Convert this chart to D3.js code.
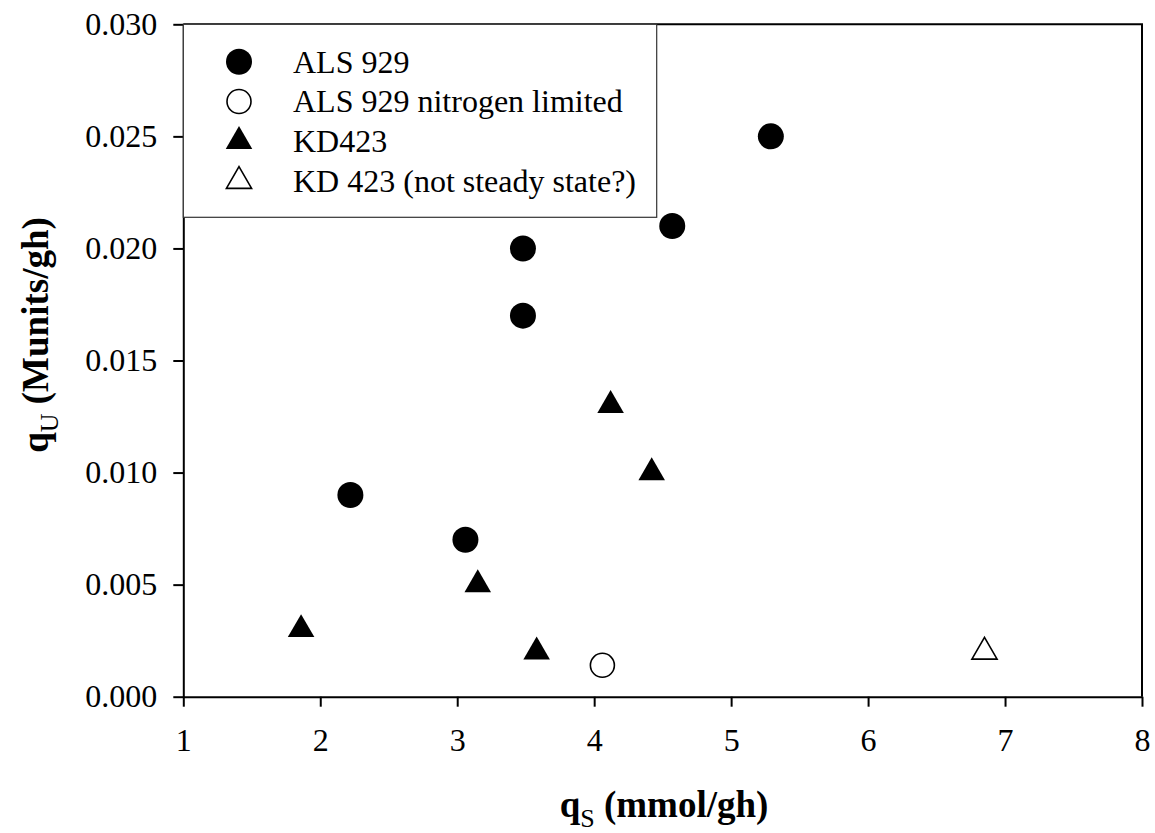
<!DOCTYPE html>
<html>
<head>
<meta charset="utf-8">
<script src="https://cdn.jsdelivr.net/npm/d3@7"></script>
<style>
	body { margin: 0; background: #fff; }
	svg { display: block; font-family: "Liberation Serif", "Times New Roman", serif; }
</style>
</head>
<body>
<svg id="chart" width="1155" height="833"></svg>
<script>
"use strict";

// values
var als929X = [2.22, 3.06, 3.48, 3.48, 4.57, 5.29];
var als929Y = [0.009, 0.007, 0.017, 0.020, 0.021, 0.025];
var alsNitroX = [4.06];
var alsNitroY = [0.0014];
var kd423X = [1.86, 3.15, 3.58, 4.12, 4.42];
var kd423Y = [0.003, 0.005, 0.002, 0.013, 0.010];
var kdUnsteadyX = [6.85];
var kdUnsteadyY = [0.002];

var xTicks = [1, 2, 3, 4, 5, 6, 7, 8];
var yTicks = [0, 0.005, 0.010, 0.015, 0.020, 0.025, 0.030];
var legendLabels = ["ALS 929", "ALS 929 nitrogen limited", "KD423", "KD 423 (not steady state?)"];

var FONT = '"Liberation Serif", "Times New Roman", serif';
var svg = d3.select('#chart');
var x = d3.scaleLinear().domain([1, 8]).range([183.3, 1142]);
var y = d3.scaleLinear().domain([0, 0.03]).range([696.7, 24.3]);

function zip(xs, ys) { return xs.map(function(v, i){ return [v, ys[i]]; }); }

var series = [
	{label: legendLabels[0], pts: zip(als929X, als929Y), shape: 'circle', fill: true},
	{label: legendLabels[1], pts: zip(alsNitroX, alsNitroY), shape: 'circle', fill: false},
	{label: legendLabels[2], pts: zip(kd423X, kd423Y), shape: 'triangle', fill: true},
	{label: legendLabels[3], pts: zip(kdUnsteadyX, kdUnsteadyY), shape: 'triangle', fill: false}
];

function symbolPath(s) {
	if (s.shape === 'circle') {
		return d3.symbol().type(d3.symbolCircle).size(s.fill ? Math.PI*13*13 : Math.PI*12*12)();
	}
	return d3.symbol().type(d3.symbolTriangle).size(s.fill ? 305 : 275)();
}

// axes
var xAxis = svg.append('g')
	.attr('transform', 'translate(0,' + y(0) + ')')
	.call(d3.axisBottom(x).tickValues(xTicks).tickSize(10).tickSizeOuter(0).tickPadding(22).tickFormat(d3.format('d')));
var yAxis = svg.append('g')
	.attr('transform', 'translate(' + x(1) + ',0)')
	.call(d3.axisLeft(y).tickValues(yTicks).tickSize(10).tickSizeOuter(0).tickPadding(16).tickFormat(d3.format('.3f')));

[xAxis, yAxis].forEach(function(a){
	a.attr('font-family', FONT).attr('font-size', 32);
	a.select('.domain').attr('stroke', '#000').attr('stroke-width', 2);
	a.selectAll('.tick line').attr('stroke', '#000').attr('stroke-width', 2);
	a.selectAll('.tick text').attr('fill', '#000');
});

// top and right frame
svg.append('path')
	.attr('d', 'M' + x(1) + ',' + y(0.03) + 'H' + x(8) + 'V' + y(0))
	.attr('fill', 'none').attr('stroke', '#000').attr('stroke-width', 2);

// legend
var legend = svg.append('g');
legend.append('rect')
	.attr('x', x(1)).attr('y', y(0.03))
	.attr('width', 656.7 - x(1)).attr('height', 217.3 - y(0.03))
	.attr('fill', '#fff').attr('stroke', '#333').attr('stroke-width', 1.2);

series.forEach(function(s, i){
	var ry = 61.7 + i*39.8;
	legend.append('path')
		.attr('d', symbolPath(s))
		.attr('transform', 'translate(239,' + ry + ')')
		.attr('fill', s.fill ? '#000' : '#fff')
		.attr('stroke', '#000').attr('stroke-width', s.fill ? 0 : 1.6);
	legend.append('text')
		.attr('x', 293).attr('y', ry + 10.8)
		.attr('font-size', 32)
		.text(s.label);
});

// points
series.forEach(function(s){
	svg.append('g').selectAll('path')
		.data(s.pts)
		.enter().append('path')
		.attr('d', symbolPath(s))
		.attr('transform', function(d){ return 'translate(' + x(d[0]) + ',' + y(d[1]) + ')'; })
		.attr('fill', s.fill ? '#000' : '#fff')
		.attr('stroke', '#000').attr('stroke-width', s.fill ? 0 : 1.6);
});

// axis titles
var xt = svg.append('text')
	.attr('x', 664).attr('y', 817)
	.attr('text-anchor', 'middle')
	.attr('font-size', 37).attr('font-weight', 'bold');
xt.append('tspan').text('q');
xt.append('tspan').attr('font-size', 26).attr('font-weight', 'normal').attr('dy', 10).text('S');
xt.append('tspan').attr('dy', -10).text(' (mmol/gh)');

var yt = svg.append('text')
	.attr('transform', 'translate(48,335) rotate(-90)')
	.attr('text-anchor', 'middle')
	.attr('font-size', 37).attr('font-weight', 'bold');
yt.append('tspan').text('q');
yt.append('tspan').attr('font-size', 26).attr('font-weight', 'normal').attr('dy', 10).text('U');
yt.append('tspan').attr('dy', -10).text(' (Munits/gh)');
</script>
</body>
</html>
